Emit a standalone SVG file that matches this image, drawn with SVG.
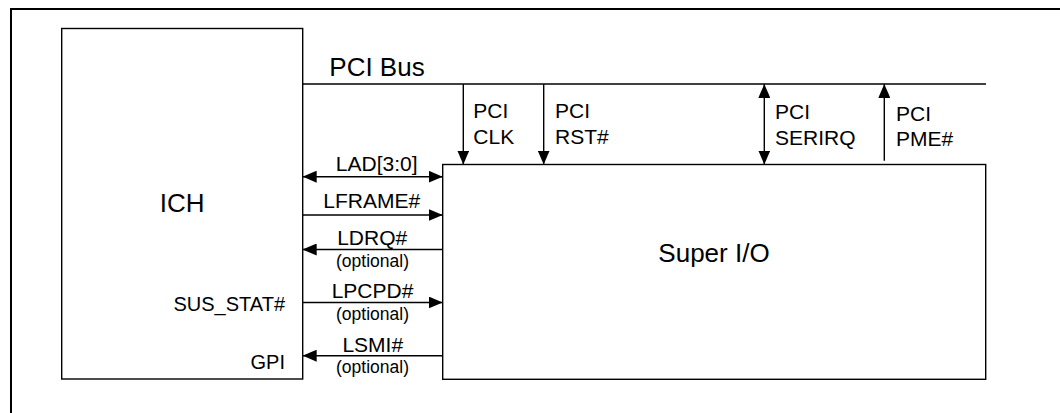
<svg xmlns="http://www.w3.org/2000/svg" width="1060" height="413" viewBox="0 0 1060 413">
  <style>
    .box { fill: #fff; stroke: #000; stroke-width: 1.4; }
    .ln { fill: none; stroke: #000; stroke-width: 1.4; }
    .frame { fill: none; stroke: #000; stroke-width: 2; }
    text { font-family: "Liberation Sans", Arial, sans-serif; fill: #000; }
    .big { font-size: 26px; }
    .lbl { font-size: 21px; }
    .pin { font-size: 20px; text-anchor: end; }
    .opt { font-size: 17.5px; text-anchor: middle; }
    .mid { text-anchor: middle; }
  </style>
  <defs>
    <marker id="ah" viewBox="0 0 14 12" refX="14" refY="6" markerWidth="14" markerHeight="12" markerUnits="userSpaceOnUse" orient="auto-start-reverse">
      <path d="M0,0 L14,6 L0,12 z" fill="#000"/>
    </marker>
  </defs>
  <rect width="1060" height="413" fill="#fff"/>
  <path class="frame" d="M11,413 V9 H1060"/>

  <g id="ich">
    <rect class="box" x="61.7" y="28.5" width="241" height="350.5"/>
    <text class="big mid" x="182.2" y="212">ICH</text>
    <text class="pin" x="285" y="310.5">SUS_STAT#</text>
    <text class="pin" x="285" y="369.3">GPI</text>
  </g>

  <g id="superio">
    <rect class="box" x="442.7" y="164.5" width="543" height="214.8"/>
    <text class="big mid" x="714" y="262.3">Super I/O</text>
  </g>

  <g id="connectors">
    <line class="ln" x1="302.7" y1="84" x2="986" y2="84"/>
    <text class="big" x="329.3" y="76">PCI Bus</text>

    <line class="ln" x1="302.7" y1="176.7" x2="442.7" y2="176.7" marker-start="url(#ah)" marker-end="url(#ah)"/>
    <text class="lbl mid" x="376.7" y="170.7">LAD[3:0]</text>

    <line class="ln" x1="302.7" y1="215" x2="442.7" y2="215" marker-end="url(#ah)"/>
    <text class="lbl mid" x="371.7" y="208.3">LFRAME#</text>

    <line class="ln" x1="442.7" y1="249.5" x2="302.7" y2="249.5" marker-end="url(#ah)"/>
    <text class="lbl mid" x="372.2" y="245">LDRQ#</text>
    <text class="opt" x="372.5" y="267.3">(optional)</text>

    <line class="ln" x1="302.7" y1="302.5" x2="442.7" y2="302.5" marker-end="url(#ah)"/>
    <text class="lbl mid" x="372.5" y="297.5">LPCPD#</text>
    <text class="opt" x="372.5" y="320">(optional)</text>

    <line class="ln" x1="442.7" y1="355.7" x2="302.7" y2="355.7" marker-end="url(#ah)"/>
    <text class="lbl mid" x="372.8" y="351.7">LSMI#</text>
    <text class="opt" x="372.5" y="373.3">(optional)</text>

    <line class="ln" x1="463.3" y1="84" x2="463.3" y2="164.5" marker-end="url(#ah)"/>
    <text class="lbl" x="473.3" y="118.3">PCI</text>
    <text class="lbl" x="473.3" y="144">CLK</text>

    <line class="ln" x1="543.7" y1="84" x2="543.7" y2="164.5" marker-end="url(#ah)"/>
    <text class="lbl" x="555" y="118.3">PCI</text>
    <text class="lbl" x="555" y="144">RST#</text>

    <line class="ln" x1="764.3" y1="84" x2="764.3" y2="164.5" marker-start="url(#ah)" marker-end="url(#ah)"/>
    <text class="lbl" x="775" y="119.3">PCI</text>
    <text class="lbl" x="775" y="145">SERIRQ</text>

    <line class="ln" x1="884.3" y1="160.7" x2="884.3" y2="84" marker-end="url(#ah)"/>
    <text class="lbl" x="896" y="120.7">PCI</text>
    <text class="lbl" x="896" y="146">PME#</text>
  </g>
</svg>
